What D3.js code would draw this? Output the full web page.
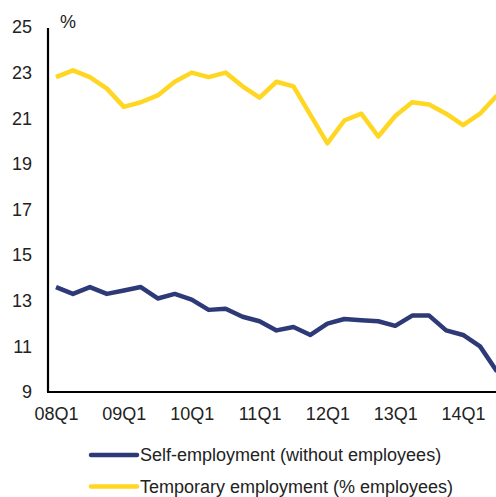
<!DOCTYPE html>
<html><head><meta charset="utf-8">
<script src="https://cdn.jsdelivr.net/npm/d3@7"></script>
<style>body{margin:0;background:#fff}svg{display:block}text{font-family:"Liberation Sans",Arial,sans-serif;fill:#222}</style>
</head><body>
<svg id="c" width="496" height="497"></svg>
<script>
const quarters = ["08Q1","08Q2","08Q3","08Q4","09Q1","09Q2","09Q3","09Q4","10Q1","10Q2","10Q3","10Q4","11Q1","11Q2","11Q3","11Q4","12Q1","12Q2","12Q3","12Q4","13Q1","13Q2","13Q3","13Q4","14Q1","14Q2","14Q3"];
const selfEmployment = [13.6,13.3,13.6,13.3,13.45,13.6,13.1,13.3,13.05,12.6,12.65,12.3,12.1,11.7,11.85,11.5,12.0,12.2,12.15,12.1,11.9,12.35,12.35,11.7,11.5,11.0,9.9];
const temporary = [22.8,23.1,22.8,22.3,21.5,21.7,22.0,22.6,23.0,22.8,23.0,22.4,21.9,22.6,22.4,21.15,19.9,20.9,21.2,20.2,21.1,21.7,21.6,21.2,20.7,21.2,22.0];
const xTickLabels = ["08Q1","09Q1","10Q1","11Q1","12Q1","13Q1","14Q1"];
const yTicks = [9,11,13,15,17,19,21,23,25];
const seriesNames = ["Self-employment (without employees)","Temporary employment (% employees)"];
const colors = ["#2e3a78","#ffd621"];

const svg = d3.select("#c");
const x = d3.scalePoint().domain(quarters).range([56, 497]);
const y = d3.scaleLinear().domain([9,25]).range([392, 27]);
const fs = "18px";

// y axis
const ya = svg.append("g").attr("transform","translate(48,0)")
  .call(d3.axisLeft(y).tickValues(yTicks).tickSize(0).tickPadding(16));
ya.select(".domain").attr("stroke","#000").attr("stroke-width",2.2).attr("d","M0,28V392");
ya.selectAll("text").style("font-size",fs).attr("fill","#222").attr("font-family","Liberation Sans, Arial, sans-serif");

// x axis
const xa = svg.append("g").attr("transform","translate(0,392)")
  .call(d3.axisBottom(x).tickValues(xTickLabels).tickSize(0).tickPadding(15));
xa.select(".domain").attr("stroke","#000").attr("stroke-width",2.2).attr("d","M47,0H496");
xa.selectAll("text").style("font-size",fs).attr("fill","#222").attr("font-family","Liberation Sans, Arial, sans-serif");

svg.append("text").attr("x",60).attr("y",28).style("font-size",fs).text("%");

const line = d3.line().x((d,i)=>x(quarters[i])).y(d=>y(d));
[selfEmployment, temporary].forEach((s,k)=>{
  svg.append("path").datum(s).attr("d",line).attr("fill","none")
    .attr("stroke",colors[k]).attr("stroke-width",4.5).attr("stroke-linejoin","round");
});

// legend
const ly = [455, 486.5];
seriesNames.forEach((n,k)=>{
  svg.append("line").attr("x1",91).attr("x2",137).attr("y1",ly[k]).attr("y2",ly[k])
    .attr("stroke",colors[k]).attr("stroke-width",4.5).attr("stroke-linecap","round");
  svg.append("text").attr("x",140).attr("y",ly[k]+6).style("font-size",fs).text(n);
});
</script>
</body></html>
